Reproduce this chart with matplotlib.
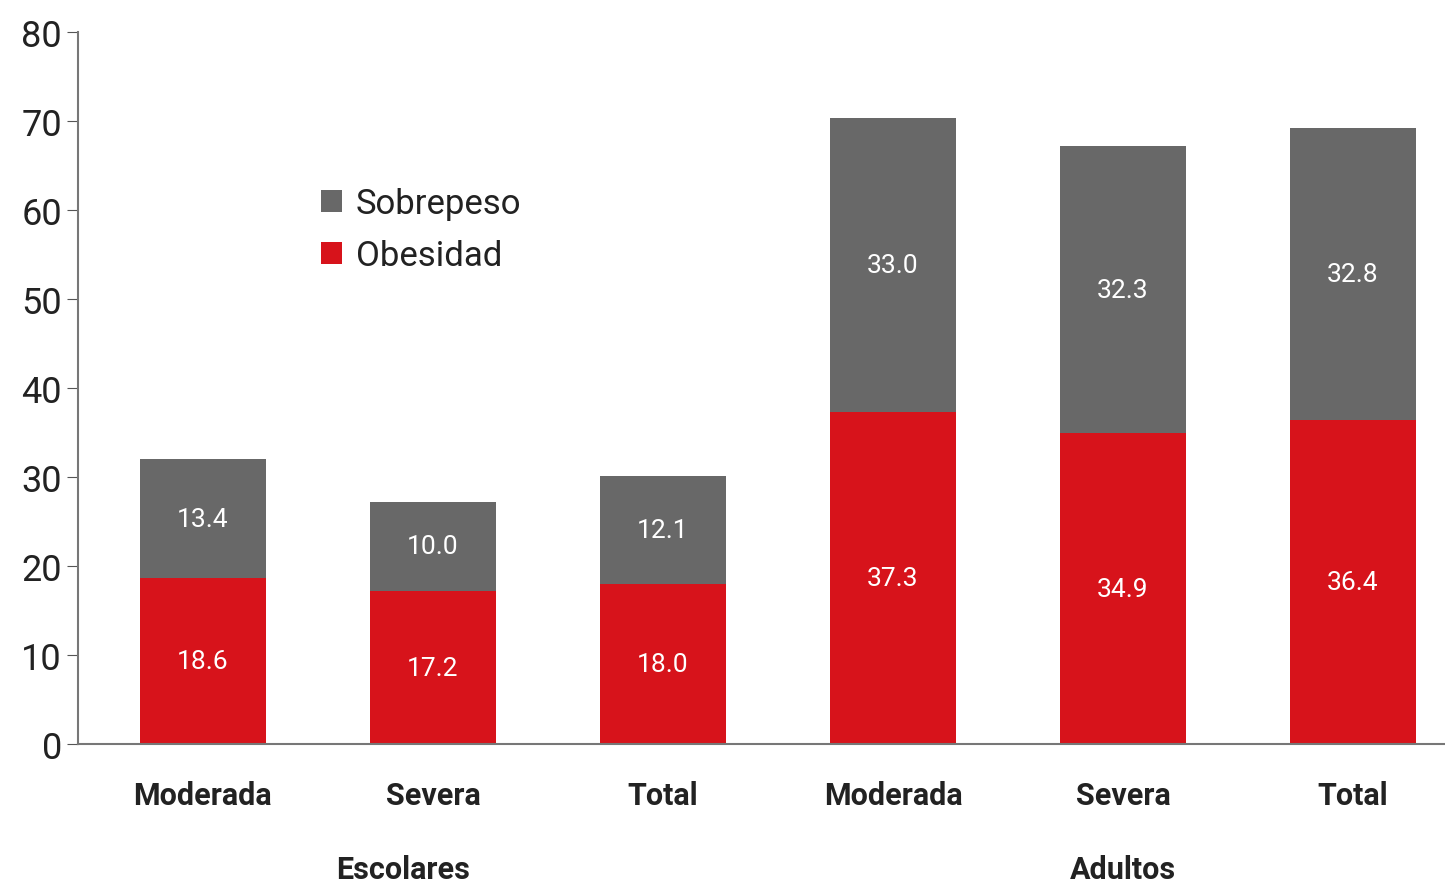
import matplotlib.pyplot as plt
import numpy as np

plt.rcParams['font.family'] = ['Roboto', 'DejaVu Sans']

# datos
categorias = ['Moderada', 'Severa', 'Total', 'Moderada', 'Severa', 'Total']
grupos = ['Escolares', 'Adultos']
obesidad = [18.6, 17.2, 18.0, 37.3, 34.9, 36.4]
sobrepeso = [13.4, 10.0, 12.1, 33.0, 32.3, 32.8]

rojo = '#d7131b'
gris = '#686868'

fig = plt.figure(figsize=(14.45, 8.87), dpi=100)
ax = fig.add_axes([0.054, 0.16, 0.946, 0.803])

x = np.arange(len(categorias))
b1 = ax.bar(x, obesidad, width=0.548, color=rojo, label='Obesidad')
b2 = ax.bar(x, sobrepeso, width=0.548, bottom=obesidad, color=gris, label='Sobrepeso')

ax.bar_label(b1, labels=[f'{v:.1f}' for v in obesidad], label_type='center',
             color='white', fontsize=19)
ax.bar_label(b2, labels=[f'{v:.1f}' for v in sobrepeso], label_type='center',
             color='white', fontsize=19)

ax.set_xlim(-0.543, 5.4)
ax.set_ylim(0, 80)
ax.set_yticks(range(0, 81, 10))
ax.tick_params(axis='y', labelsize=26, length=8, color='#555555', labelcolor='#222222')
ax.set_xticks(x)
ax.set_xticklabels(categorias, fontsize=22, fontweight='bold', color='#222222')
ax.tick_params(axis='x', length=0, pad=26)

for s in ['top', 'right']:
    ax.spines[s].set_visible(False)
for s in ['left', 'bottom']:
    ax.spines[s].set_color('#777777')
    ax.spines[s].set_linewidth(1.5)

# grupos
ax.text(0.87, -14, grupos[0], ha='center', va='center', fontsize=22,
        fontweight='bold', color='#222222')
ax.text(4.0, -14, grupos[1], ha='center', va='center', fontsize=22,
        fontweight='bold', color='#222222')

h, l = ax.get_legend_handles_labels()
ax.legend(h[::-1], l[::-1], loc='upper left', bbox_to_anchor=(0.155, 0.826),
          frameon=False, fontsize=25, handlelength=0.6, handleheight=0.6,
          handletextpad=0.4, labelspacing=0.55, labelcolor='#222222')

plt.savefig('out.png', dpi=100)
